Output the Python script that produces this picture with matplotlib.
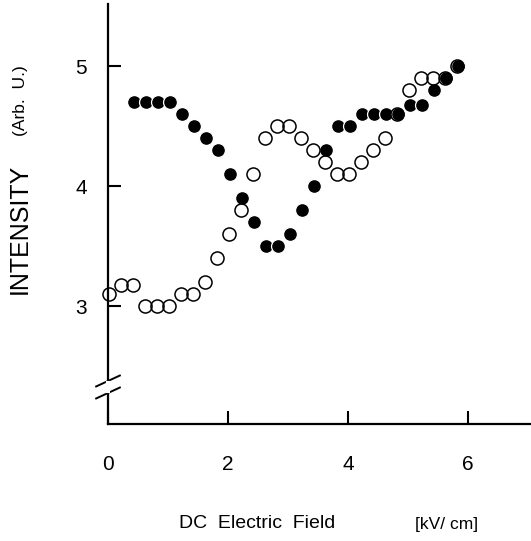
import numpy as np
import matplotlib
matplotlib.use("Agg")
import matplotlib.pyplot as plt

plt.rcParams['font.family'] = ['Liberation Sans', 'DejaVu Sans']

# open circles
open_x = [0.0, 0.2, 0.4, 0.6, 0.8, 1.0, 1.2, 1.4, 1.6, 1.8, 2.0, 2.2, 2.4, 2.6, 2.8,
          3.0, 3.2, 3.4, 3.6, 3.8, 4.0, 4.2, 4.4, 4.6, 4.8, 5.0, 5.2, 5.4, 5.6, 5.8]
open_y = [3.1, 3.18, 3.18, 3.0, 3.0, 3.0, 3.1, 3.1, 3.2, 3.4, 3.6, 3.8, 4.1, 4.4, 4.5,
          4.5, 4.4, 4.3, 4.2, 4.1, 4.1, 4.2, 4.3, 4.4, 4.6, 4.8, 4.9, 4.9, 4.9, 5.0]

# filled circles
fill_x = [0.4, 0.6, 0.8, 1.0, 1.2, 1.4, 1.6, 1.8, 2.0, 2.2, 2.4, 2.6, 2.8, 3.0,
          3.2, 3.4, 3.6, 3.8, 4.0, 4.2, 4.4, 4.6, 4.8, 5.0, 5.2, 5.4, 5.6, 5.8]
fill_y = [4.7, 4.7, 4.7, 4.7, 4.6, 4.5, 4.4, 4.3, 4.1, 3.9, 3.7, 3.5, 3.5, 3.6,
          3.8, 4.0, 4.3, 4.5, 4.5, 4.6, 4.6, 4.6, 4.6, 4.68, 4.68, 4.8, 4.9, 5.0]

xticks = [0, 2, 4, 6]
yticks = [3, 4, 5]

fig = plt.figure(figsize=(5.31, 5.41), dpi=100)
ax = fig.add_axes([108/531, 117/541, 423/531, 420/541])

ax.plot(np.array(fill_x) + 0.04, fill_y, 'o', color='black', ms=10, mec='white', mew=0.9, zorder=3)
ax.plot(np.array(open_x) + 0.02, open_y, 'o', mfc='none', mec='black', ms=9.4, mew=1.1, zorder=4,
        clip_on=False)

ax.set_xlim(0, 7.05)
ax.set_ylim(2.02, 5.52)
ax.set_xticks(xticks)
ax.set_yticks(yticks)
ax.tick_params(axis='x', direction='in', length=9.5, width=1.5, labelsize=15, pad=22)
ax.tick_params(axis='y', direction='in', length=9, width=1.5, labelsize=15, pad=15)

for s in ['top', 'right', 'left']:
    ax.spines[s].set_visible(False)
ax.spines['bottom'].set_linewidth(1.6)

# broken left axis
ax.plot([0, 0], [0.0762, 1.0], transform=ax.transAxes, color='black', lw=1.6, clip_on=False)
ax.plot([0, 0], [0.0, 0.0762], transform=ax.transAxes, color='black', lw=1.6, clip_on=False)
for yc in [0.1024, 0.0738]:
    ax.plot([-0.028, 0.028], [yc - 0.013, yc + 0.013], transform=ax.transAxes,
            color='black', lw=1.4, clip_on=False)
ax.plot([0, 0], [0.0776, 0.0976], transform=ax.transAxes, color='white', lw=3, clip_on=False)

fig.text(20/531, 1 - 229/541, 'INTENSITY', rotation=90, fontsize=18, ha='center', va='center')
fig.text(21/531, 1 - 101/541, '(Arb.  U.)', rotation=90, fontsize=12.5, ha='center', va='center')
fig.text(257/531, 1 - 523/541, 'DC  Electric  Field', fontsize=14, ha='center', va='center')
fig.text(447/531, 1 - 525/541, '[kV/ cm]', fontsize=12.5, ha='center', va='center')

fig.savefig('out.png', dpi=100)
